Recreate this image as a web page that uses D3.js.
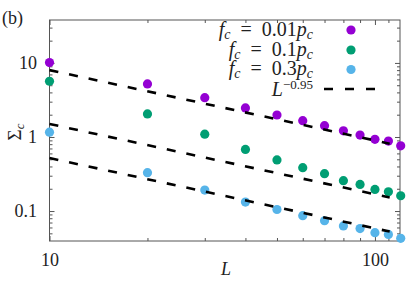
<!DOCTYPE html>
<html><head><meta charset="utf-8">
<script src="https://cdn.jsdelivr.net/npm/d3@7"></script>
<style>body{margin:0;background:#fff} svg{display:block}</style>
</head><body>
<script>
// ---- data ----
const sizes = [10, 20, 30, 40, 50, 60, 70, 80, 90, 100, 110, 120];
const seriesNames = ["0.01", "0.1", "0.3"];
const sigmaF001 = [10.1, 5.2, 3.4, 2.47, 1.98, 1.66, 1.42, 1.21, 1.06, 0.93, 0.88, 0.76];
const sigmaF01  = [5.66, 2.05, 1.09, 0.68, 0.49, 0.385, 0.32, 0.257, 0.229, 0.196, 0.182, 0.161];
const sigmaF03  = [1.16, 0.33, 0.192, 0.132, 0.105, 0.0865, 0.074, 0.063, 0.058, 0.051, 0.0484, 0.0428];
const seriesColors = ["#9400d3", "#009e73", "#56b4e9"];
const fitPrefactors = [8.0, 1.5, 0.52];
const fitExponent = -0.95;
const fitLabel = "−0.95";
const fitRange = [10, 111];
const xMajorTicks = [10, 100];
const xMinorTicks = [20, 30, 40, 50, 60, 70, 80, 90, 110];
const yMajorTicks = [0.1, 1, 10];
const yMinorTicks = [0.05, 0.06, 0.07, 0.08, 0.09, 0.2, 0.3, 0.4, 0.5, 0.6, 0.7, 0.8, 0.9, 2, 3, 4, 5, 6, 7, 8, 9, 20, 30];
const xTickLabels = ["10", "100"];
const yTickLabels = ["0.1", "1", "10"];

const W = 407, H = 285;
const M = {left: 49.5, right: 400, top: 20, bottom: 241};
const FONT = "'Liberation Serif', 'DejaVu Serif', serif";
const TXT = "#222";

const svg = d3.select("body").append("svg").attr("width", W).attr("height", H)
  .style("font-family", FONT);

const x = d3.scaleLog().domain([10, 119.4]).range([M.left, M.right]);
const y = d3.scaleLog().domain([0.0394, 38]).range([M.bottom, M.top]);

const series = [sigmaF001, sigmaF01, sigmaF03].map((vals, i) => ({
  name: seriesNames[i], color: seriesColors[i],
  pts: sizes.map((L, j) => ({L, v: vals[j]}))
}));

// ---- axes (inward ticks on all four sides) ----
function styleAxis(g) {
  g.select(".domain").remove();
  g.selectAll(".tick line").attr("stroke", "#555").attr("stroke-width", 1);
  g.selectAll(".tick text").attr("fill", TXT).style("font-size", "18px").style("font-family", FONT);
}
const fmtX = d => xTickLabels[xMajorTicks.indexOf(d)];
const fmtY = d => yTickLabels[yMajorTicks.indexOf(d)];

svg.append("g").attr("transform", `translate(0,${M.bottom})`)
  .call(d3.axisBottom(x).tickValues(xMajorTicks).tickFormat(fmtX).tickSize(-5).tickPadding(12.5)).call(styleAxis);
svg.append("g").attr("transform", `translate(0,${M.bottom})`)
  .call(d3.axisBottom(x).tickValues(xMinorTicks).tickFormat("").tickSize(-3)).call(styleAxis);
svg.append("g").attr("transform", `translate(0,${M.top})`)
  .call(d3.axisTop(x).tickValues(xMajorTicks).tickFormat("").tickSize(-5)).call(styleAxis);
svg.append("g").attr("transform", `translate(0,${M.top})`)
  .call(d3.axisTop(x).tickValues(xMinorTicks).tickFormat("").tickSize(-3)).call(styleAxis);

svg.append("g").attr("transform", `translate(${M.left},0)`)
  .call(d3.axisLeft(y).tickValues(yMajorTicks).tickFormat(fmtY).tickSize(-5).tickPadding(12.5)).call(styleAxis);
svg.append("g").attr("transform", `translate(${M.left},0)`)
  .call(d3.axisLeft(y).tickValues(yMinorTicks).tickFormat("").tickSize(-3)).call(styleAxis);
svg.append("g").attr("transform", `translate(${M.right},0)`)
  .call(d3.axisRight(y).tickValues(yMajorTicks).tickFormat("").tickSize(-5)).call(styleAxis);
svg.append("g").attr("transform", `translate(${M.right},0)`)
  .call(d3.axisRight(y).tickValues(yMinorTicks).tickFormat("").tickSize(-3)).call(styleAxis);

// frame
svg.append("rect").attr("x", M.left).attr("y", M.top)
  .attr("width", M.right - M.left).attr("height", M.bottom - M.top)
  .attr("fill", "none").attr("stroke", "#555").attr("stroke-width", 1);

// ---- points ----
series.forEach(s => {
  svg.append("g").selectAll("circle").data(s.pts).join("circle")
    .attr("cx", d => x(d.L)).attr("cy", d => y(d.v)).attr("r", 4.6)
    .attr("fill", s.color);
});

// ---- fit lines ----
const line = d3.line().x(d => x(d[0])).y(d => y(d[1]));
fitPrefactors.forEach(a => {
  const pts = fitRange.map(L => [L, a * Math.pow(L / 10, fitExponent)]);
  svg.append("path").attr("d", line(pts)).attr("fill", "none")
    .attr("stroke", "#000").attr("stroke-width", 2.6).attr("stroke-dasharray", "9,11");
});

// ---- legend ----
const legX = 313, legMarkX = 351;
const legRows = [35.5, 55.5, 74.5];
const legMarkY = [30, 50, 69.5];
series.forEach((s, i) => {
  const t = svg.append("text").attr("x", legX).attr("y", legRows[i])
    .attr("text-anchor", "end").attr("fill", TXT).style("font-size", "20px");
  t.append("tspan").attr("font-style", "italic").text("f");
  t.append("tspan").attr("font-style", "italic").attr("font-size", "14px").attr("dy", 3).text("c");
  t.append("tspan").attr("dy", -3).text("\u2002=\u2002" + s.name);
  t.append("tspan").attr("font-style", "italic").text("p");
  t.append("tspan").attr("font-style", "italic").attr("font-size", "14px").attr("dy", 3).text("c");
  svg.append("circle").attr("cx", legMarkX).attr("cy", legMarkY[i]).attr("r", 4.6).attr("fill", s.color);
});
{
  const t = svg.append("text").attr("x", legX).attr("y", 96)
    .attr("text-anchor", "end").attr("fill", TXT).style("font-size", "20px");
  t.append("tspan").attr("font-style", "italic").text("L");
  t.append("tspan").attr("font-size", "13px").attr("dy", -7).text(fitLabel);
  svg.append("line").attr("x1", 324).attr("x2", 376).attr("y1", 89).attr("y2", 89)
    .attr("stroke", "#000").attr("stroke-width", 2.6).attr("stroke-dasharray", "9,12");
}

// ---- labels ----
svg.append("text").attr("x", 2).attr("y", 24).attr("fill", TXT).style("font-size", "18px").text("(b)");
svg.append("text").attr("x", 226).attr("y", 275).attr("text-anchor", "middle").attr("fill", TXT)
  .style("font-size", "18px").attr("font-style", "italic").text("L");
{
  const t = svg.append("text").attr("transform", "translate(21,132) rotate(-90)")
    .attr("text-anchor", "middle").attr("fill", TXT).style("font-size", "19px");
  t.append("tspan").text("Σ");
  t.append("tspan").attr("font-style", "italic").attr("font-size", "13px").attr("dy", 3).text("c");
}
</script>
</body></html>
